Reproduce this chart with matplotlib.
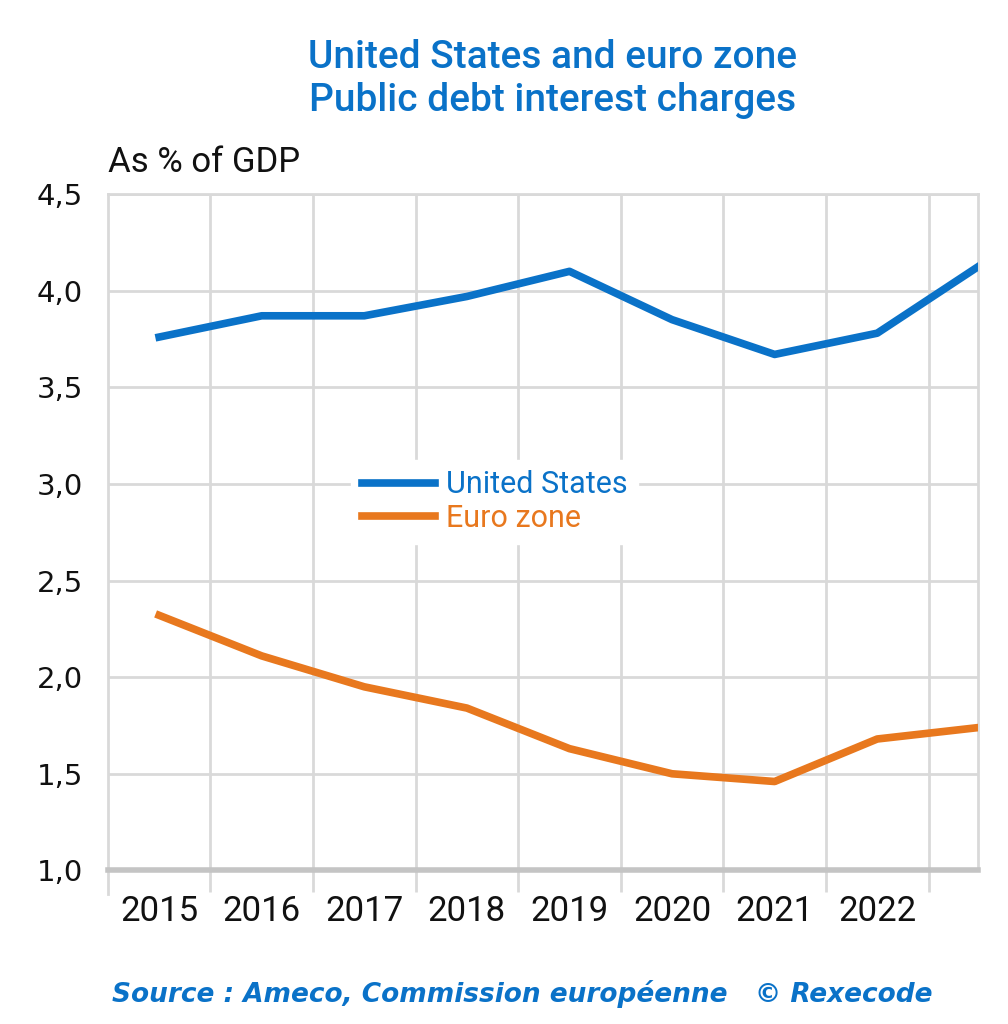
import numpy as np
import matplotlib
matplotlib.use("Agg")
import matplotlib.pyplot as plt
from matplotlib import font_manager

# data (% of GDP)
years = [2015, 2016, 2017, 2018, 2019, 2020, 2021, 2022, 2023]
us_values = [3.76, 3.87, 3.87, 3.97, 4.10, 3.85, 3.67, 3.78, 4.13]
ez_values = [2.32, 2.11, 1.95, 1.84, 1.63, 1.50, 1.46, 1.68, 1.74]
year_labels = ["2015", "2016", "2017", "2018", "2019", "2020", "2021", "2022"]
y_ticks = [1.0, 1.5, 2.0, 2.5, 3.0, 3.5, 4.0, 4.5]

BLUE = "#0a72c8"
ORANGE = "#e8781e"
GRID = "#d9d9d9"

fonts = font_manager.fontManager.ttflist
names = {f.name for f in fonts}
NARROW = "Liberation Sans Narrow" if "Liberation Sans Narrow" in names else "Roboto"

# pick a family that really has a bold italic face for the source line
SOURCE_FONT = "DejaVu Sans"
for fam in ["DejaVu Sans", "Open Sans", "Lato", "Noto Sans", "Liberation Sans"]:
    if any(f.name == fam and f.style in ("italic", "oblique") for f in fonts):
        SOURCE_FONT = fam
        break

fig = plt.figure(figsize=(10.08, 10.24), dpi=100)
ax = fig.add_axes([0.107, 0.150, 0.863, 0.6605])

ax.plot(years, us_values, color=BLUE, lw=5.5, solid_joinstyle="round", label="United States", zorder=3)
ax.plot(years, ez_values, color=ORANGE, lw=5.5, solid_joinstyle="round", label="Euro zone", zorder=3)

ax.set_xlim(2014.5, 2022.98)
ax.set_ylim(1.0, 4.5)

ax.set_yticks(y_ticks)
ax.set_yticklabels([f"{v:.1f}".replace(".", ",") for v in y_ticks],
                   fontsize=21, family="DejaVu Sans", color="#111111")
ax.set_xticks(years[:-1])
ax.set_xticklabels(year_labels, fontsize=25, family=NARROW, color="#111111")
ax.set_xticks(np.arange(2015.5, 2023, 1.0), minor=True)
ax.tick_params(axis="x", which="major", length=0, pad=18)
ax.tick_params(axis="x", which="minor", length=16, width=2, color=GRID)
ax.tick_params(axis="y", length=0, pad=18)

ax.grid(True, axis="y", color=GRID, lw=2, zorder=0)
ax.grid(True, axis="x", which="minor", color=GRID, lw=2, zorder=0)
for side in ["top", "left", "right"]:
    ax.spines[side].set_color(GRID)
    ax.spines[side].set_linewidth(2)
ax.spines["bottom"].set_color("#c4c4c4")
ax.spines["bottom"].set_linewidth(4)

# extend left spine below as a tick
ax.plot([2014.5, 2014.5], [1.0, 0.88], color=GRID, lw=2, clip_on=False)

leg = ax.legend(loc="center left", bbox_to_anchor=(0.262, 0.545), frameon=True,
                prop={"family": NARROW, "size": 22}, handlelength=2.4,
                handletextpad=0.35, labelspacing=0.15, borderpad=0.35)
leg.get_frame().set_edgecolor("white")
leg.get_frame().set_facecolor("white")
leg.get_frame().set_alpha(1)
for txt, c in zip(leg.get_texts(), [BLUE, ORANGE]):
    txt.set_color(c)

fig.text(0.548, 0.962, "United States and euro zone\nPublic debt interest charges",
         ha="center", va="top", color=BLUE, fontsize=28, family=NARROW,
         weight="medium", linespacing=1.2)
fig.text(0.107, 0.832, "As % of GDP", ha="left", va="baseline", fontsize=25,
         family=NARROW, color="#111111")
fig.text(0.518, 0.021, "Source : Ameco, Commission européenne   © Rexecode",
         ha="center", va="baseline", color=BLUE, fontsize=19,
         family=SOURCE_FONT, weight="bold", style="italic")

fig.savefig("out.png", dpi=100)
